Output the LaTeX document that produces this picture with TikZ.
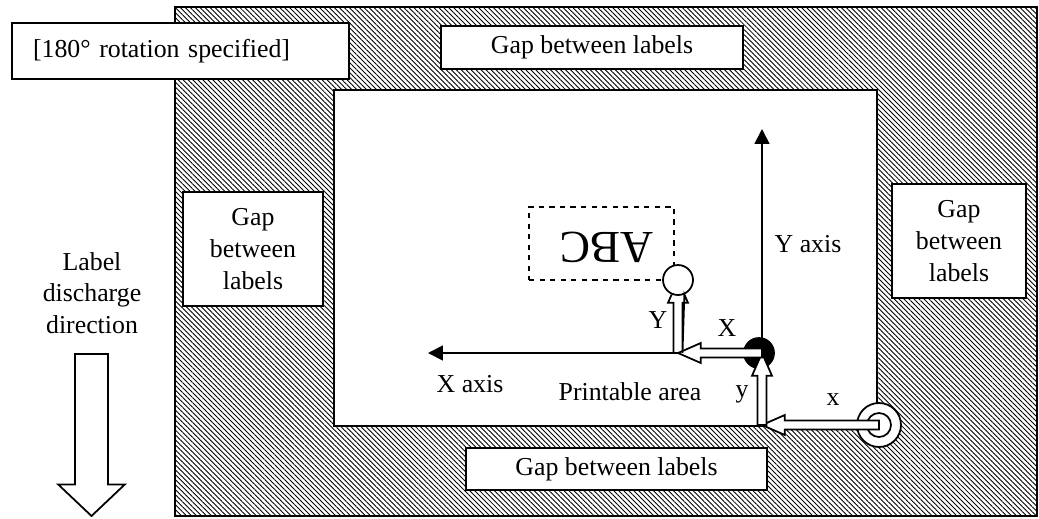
\documentclass[tikz,border=0pt]{standalone}
\usepackage{fontspec}
\setmainfont{Liberation Serif}
\usetikzlibrary{arrows.meta,positioning,calc,patterns.meta}
\tikzset{
  txt/.style={font=\fontsize{14.7}{18}\selectfont},
  gapbox/.style={txt, draw, line width=1pt, fill=white, align=center, inner sep=0pt},
  harrow/.style={draw, line width=1pt, fill=white, line join=miter},
  axisline/.style={-{Triangle[length=8.5pt,width=8.5pt]}, line width=1pt},
  hatch/.style={draw, line width=1pt, pattern={Lines[angle=-45,distance=2pt,line width=.5pt]}},
  dot/.style={circle, draw, line width=1pt, inner sep=0pt, minimum size=0.6cm},
}
% hollow arrow: #1 shaft half width, #2 head half width, #3 head length, #4 from, #5 to
\newcommand{\hollowarrow}[5]{%
  \coordinate (hb) at ($(#5)!#3!(#4)$);
  \draw[harrow] ($(#4)!#1!90:(#5)$) -- ($(hb)!#1!90:(#5)$) -- ($(hb)!#2!90:(#5)$) -- (#5)
    -- ($(hb)!#2!-90:(#5)$) -- ($(hb)!#1!-90:(#5)$) -- ($(#4)!#1!-90:(#5)$) -- cycle;
}

\begin{document}
\begin{tikzpicture}[x=0.02cm, y=-0.02cm]
  \useasboundingbox (0,0) rectangle (1039,518);
  % margins and printable area
  \draw[hatch] (175,7) rectangle (1037,516);
  \node[draw, line width=1pt, fill=white, inner sep=0pt, minimum width=10.86cm, minimum height=6.72cm] (area) at (605.5,258) {};
  \node[gapbox, minimum width=6.04cm, minimum height=0.86cm] (gtop) at (592,47.5) {Gap between labels};
  \node[gapbox, minimum width=6.02cm, minimum height=0.84cm] (gbot) at (616.5,469) {Gap between labels};
  \node[gapbox, minimum width=2.8cm, minimum height=2.28cm] (gleft) at (253,249) {Gap\\between\\labels};
  \node[gapbox, minimum width=2.68cm, minimum height=2.28cm] (gright) at (959,241) {Gap\\between\\labels};
  \node[gapbox, minimum width=6.74cm, minimum height=1.12cm, inner xsep=0.42cm, text width=5.9cm, align=left] (rot) at (180.5,51) {[180° rotation specified]};
  % discharge direction
  \node[txt, align=center] (dir) at (92,293) {Label\\discharge\\direction};
  \coordinate (dtop) at (91.5,354);
  \coordinate (dtip) at (91.5,516);
  \hollowarrow{9.35pt}{19pt}{18pt}{dtop}{dtip}
  % label and axes
  \node[draw, dashed, line width=1pt, inner sep=0pt, minimum width=2.9cm, minimum height=1.46cm] (abcbox) at (601.5,243.5) {};
  \node[font=\fontsize{26}{26}\selectfont, rotate=180] (abc) at (607,247) {ABC};
  \node[dot, fill=white] (abcpt) at (678,280) {};
  \node[dot, fill=black] (org) at (759,353) {};
  \coordinate (o) at (762,353);
  \coordinate (xend) at (428,353);
  \coordinate (yend) at (762,129);
  \draw[axisline] (o) -- (xend);
  \draw[axisline] (o) -- (yend);
  \node[dot, fill=white, minimum size=0.88cm] (dbl) at (879,425) {};
  \node[dot, minimum size=0.48cm] (dblin) at (dbl) {};
  \coordinate (yb) at (762,425);
  \coordinate (o2) at (678,353);
  \hollowarrow{2.55pt}{5.7pt}{13pt}{dbl}{yb}
  \hollowarrow{2.55pt}{5.7pt}{13pt}{yb}{o}
  \hollowarrow{2.55pt}{5.7pt}{13pt}{o}{o2}
  \hollowarrow{2.55pt}{5.7pt}{13pt}{o2}{abcpt}
  % texts
  \node[txt, anchor=base] (yaxis) at (808,252) {Y axis};
  \node[txt, anchor=base] (xaxis) at (470,392) {X axis};
  \node[txt, anchor=base] (parea) at (630,400) {Printable area};
  \node[txt, anchor=base] (lY) at (658,328) {Y};
  \node[txt, anchor=base] (lX) at (727,336) {X};
  \node[txt, anchor=base] (ly) at (742,397) {y};
  \node[txt, anchor=base] (lx) at (833,405) {x};
\end{tikzpicture}
\end{document}
